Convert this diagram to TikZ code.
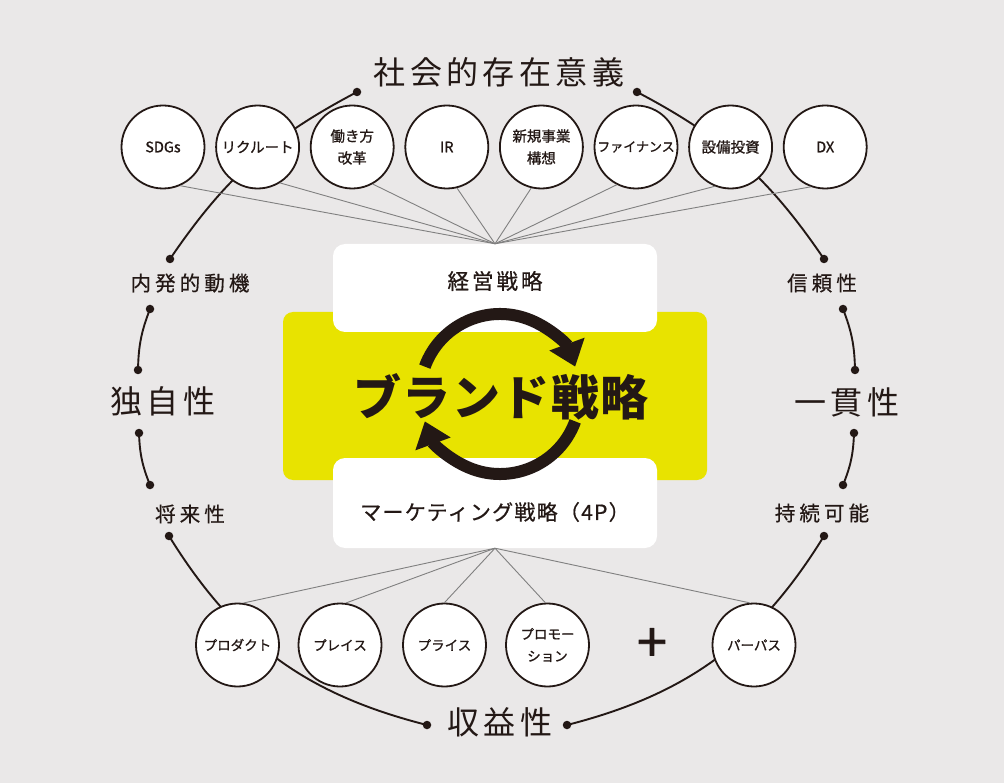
\documentclass[tikz,border=0pt]{standalone}
\usepackage{fontspec}
\setmainfont{Noto Sans CJK JP}
\usetikzlibrary{arrows.meta,calc}
\usetikzlibrary{positioning}
\definecolor{ink}{RGB}{35,24,21}
\definecolor{bgray}{RGB}{234,232,232}
\definecolor{brandyel}{RGB}{232,227,0}
\definecolor{spokegray}{RGB}{128,128,128}
\tikzset{bubble/.style={circle,draw=ink,line width=1.8pt,fill=white,minimum size=83pt,inner sep=0pt,align=center,text=ink,font=\fontsize{14.5}{22}\selectfont\addfontfeature{FakeBold=1}},
  smallbubble/.style={bubble,font=\fontsize{13.5}{22}\selectfont\addfontfeature{FakeBold=1}},
  jdot/.style={circle,fill=ink,inner sep=0pt,minimum size=8.5pt},
  rim/.style={draw=ink,line width=1.9pt},
  spoke/.style={draw=spokegray,line width=0.9pt},
  biglbl/.style={text=ink,font=\fontsize{32}{36}\selectfont\addfontfeature{LetterSpace=14}},
  midlbl/.style={text=ink,font=\fontsize{20.5}{24}\selectfont\addfontfeature{LetterSpace=20,FakeBold=0.5}},
  wbox/.style={fill=white,rounded corners=12pt,minimum width=324pt,inner sep=0pt},
  ring/.style={draw=ink,line width=12pt,-{Triangle[width=36pt,length=24pt]}}}

\begin{document}
\begin{tikzpicture}[x=1pt,y=-1pt,line join=round]
\fill[bgray] (0,0) rectangle (1004,783);
\useasboundingbox (0,0) rectangle (1004,783);
% --- dots on the outer rim
\node[jdot] (s1) at (357,92) {}; \node[jdot] (s2) at (637,92) {};
\node[jdot] (l1) at (170,259) {}; \node[jdot] (l2) at (150,309) {}; \node[jdot] (l3) at (138,370) {};
\node[jdot] (l4) at (139,433) {}; \node[jdot] (l5) at (150,485) {}; \node[jdot] (l6) at (169,536) {};
\node[jdot] (r1) at (824,259) {}; \node[jdot] (r2) at (843,309) {}; \node[jdot] (r3) at (855,370) {};
\node[jdot] (r4) at (854,433) {}; \node[jdot] (r5) at (843,485) {}; \node[jdot] (r6) at (824,536) {};
\node[jdot] (b1) at (427,725) {}; \node[jdot] (b2) at (567,725) {};
\draw[rim] (s1.center) to[bend right=14] (l1.center);
\draw[rim] (l2.center) to[bend right=10] (l3.center);
\draw[rim] (l4.center) to[bend right=10] (l5.center);
\draw[rim] (l6.center) to[bend right=22] (b1.center);
\draw[rim] (s2.center) to[bend left=14] (r1.center);
\draw[rim] (r2.center) to[bend left=10] (r3.center);
\draw[rim] (r4.center) to[bend left=10] (r5.center);
\draw[rim] (r6.center) to[bend left=22] (b2.center);
% --- rim labels
\node[biglbl] (social) at (499,72) {社会的存在意義};
\node[biglbl] (profit) at (500,722) {収益性};
\node[biglbl] (unique) at (163,401) {独自性};
\node[biglbl] (consist) at (847,402) {一貫性};
\node[midlbl] (motive) at (190,283) {内発的動機};
\node[midlbl] (future) at (190,514) {将来性};
\node[midlbl] (trust) at (822,283) {信頼性};
\node[midlbl] (sustain) at (822,513) {持続可能};
% --- center blocks
\node[fill=brandyel,rounded corners=10pt,minimum width=424pt,minimum height=168pt] (brand) at (495,396) {};
\node[wbox,minimum height=88pt] (mgmt) at (495,288) {};
\node[wbox,minimum height=90pt] (mkt) at (495,503) {};
\node[text=ink,font=\fontsize{21.5}{24}\selectfont\addfontfeature{LetterSpace=14,FakeBold=0.7}] (mgmttxt) at ([yshift=7pt]mgmt.center) {経営戦略};
\node[text=ink,font=\fontsize{21}{24}\selectfont\addfontfeature{LetterSpace=6,FakeBold=0.7}] (mkttxt) at ([yshift=-9pt]mkt.center) {マーケティング戦略（4P）};
% --- two turning arrows
\coordinate (rc) at (500,394);
\draw[ring] ($(rc)+(-160:80)$) arc[start angle=-160,end angle=-20,radius=80];
\draw[ring] ($(rc)+(20:80)$) arc[start angle=20,end angle=160,radius=80];
\node[text=ink,font=\fontsize{48}{48}\bfseries\addfontfeature{LetterSpace=3}] (brandtxt) at (501,397) {ブランド戦略};
% --- circles
\node[bubble] (sdgs) at (163,147) {SDGs};
\node[bubble] (recruit) at (257.6,147) {リクルート};
\node[bubble] (work) at (352.2,147) {働き方\\改革};
\node[bubble] (ir) at (446.8,147) {IR};
\node[bubble] (newbiz) at (541.4,147) {新規事業\\構想};
\node[bubble,font=\fontsize{13}{20}\selectfont\addfontfeature{FakeBold=1}] (finance) at (636,147) {ファイナンス};
\node[bubble] (capex) at (730.6,147) {設備投資};
\node[bubble] (dx) at (825.2,147) {DX};
\node[smallbubble] (product) at (237.5,645) {プロダクト};
\node[smallbubble] (place) at (340,645) {プレイス};
\node[smallbubble] (price) at (444.5,645) {プライス};
\node[smallbubble] (promo) at (547.5,645) {プロモー\\ション};
\node[smallbubble] (purpose) at (754,645) {パーパス};
\node[text=ink,font=\fontsize{54}{54}\selectfont\addfontfeature{FakeBold=1.5}] (plus) at (652,645) {+};
% --- spokes
\draw[spoke] (sdgs.-66) -- (mgmt.north); \draw[spoke] (recruit.-58) -- (mgmt.north);
\draw[spoke] (work.-61) -- (mgmt.north); \draw[spoke] (ir.-76) -- (mgmt.north);
\draw[spoke] (newbiz.-104) -- (mgmt.north); \draw[spoke] (finance.-117) -- (mgmt.north);
\draw[spoke] (capex.-112) -- (mgmt.north); \draw[spoke] (dx.-110) -- (mgmt.north);
\draw[spoke] (product.82) -- (mkt.south); \draw[spoke] (place.82) -- (mkt.south);
\draw[spoke] (price.90) -- (mkt.south); \draw[spoke] (promo.93) -- (mkt.south);
\draw[spoke] (purpose.96) -- (mkt.south);
\end{tikzpicture}
\end{document}
